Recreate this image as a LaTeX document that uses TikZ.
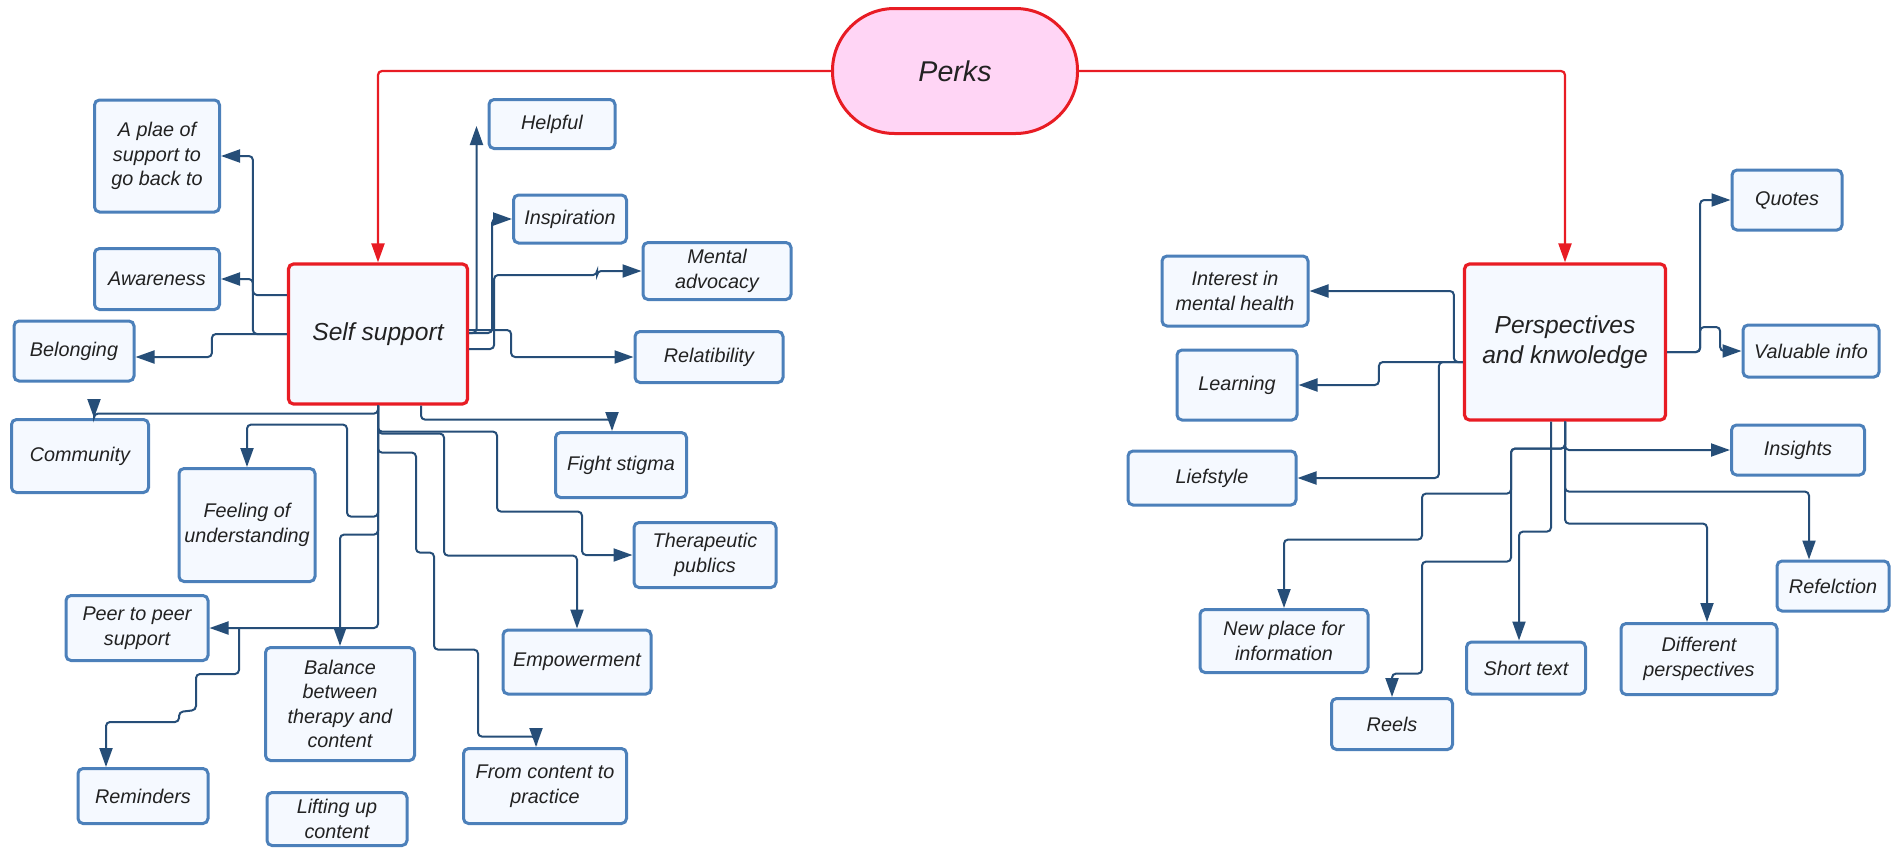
\documentclass[tikz,border=0pt]{standalone}
\usepackage{fontspec}
\setmainfont{Liberation Sans}
\usetikzlibrary{arrows.meta}
\definecolor{leaffill}{RGB}{245,249,255}
\definecolor{leafdraw}{RGB}{76,128,186}
\definecolor{linkcol}{RGB}{38,78,120}
\definecolor{hubred}{RGB}{232,28,36}
\definecolor{rootpink}{RGB}{255,213,245}
\definecolor{inkcol}{RGB}{34,34,34}
\begin{document}
\begin{tikzpicture}[x=0.5pt, y=-0.5pt, ->, >={Triangle[length=9.5pt,width=6.5pt]},
    leaf/.style={rectangle, rounded corners=2.5pt, draw=leafdraw, line width=1.5pt, fill=leaffill, align=center, inner sep=1pt},
    hub/.style={leaf, draw=hubred, line width=1.6pt, font=\itshape\fontsize{12.3}{15}\selectfont},
    root node/.style={rectangle, rounded corners=31pt, draw=hubred, line width=1.5pt, fill=rootpink, font=\itshape\fontsize{14.3}{17}\selectfont},
    link/.style={draw=linkcol, line width=1pt, rounded corners=2pt},
    redlink/.style={draw=hubred, line width=1.1pt, rounded corners=2pt}]
        \tikzstyle{every node}=[text=inkcol, font=\itshape\fontsize{9.9}{12.3}\selectfont]
        \useasboundingbox (0,0) rectangle (1901,847);

          % centre nodes
          \node[root node, minimum width=122.5pt, minimum height=62.5pt] (perks) at (955,71) {Perks};
          \node[hub, minimum width=89.5pt, minimum height=70pt] (self) at (378,334) {Self support};
          \node[hub, minimum width=100.5pt, minimum height=78pt] (persp) at (1565,342) {Perspectives\\and knwoledge};

          % self support side
          \node[leaf, minimum width=62.5pt, minimum height=56pt] (place) at (157,156) {A plae of\\support to\\go back to};
          \node[leaf, minimum width=62.5pt, minimum height=30.5pt] (aware) at (157,279) {Awareness};
          \node[leaf, minimum width=60pt, minimum height=30pt] (belong) at (74,351) {Belonging};
          \node[leaf, minimum width=63pt, minimum height=24.5pt] (helpful) at (552,124) {Helpful};
          \node[leaf, minimum width=56.5pt, minimum height=24pt] (inspire) at (570,219) {Inspiration};
          \node[leaf, minimum width=74pt, minimum height=28.5pt] (mental) at (717,271) {Mental\\advocacy};
          \node[leaf, minimum width=74pt, minimum height=25.5pt] (relat) at (709,357) {Relatibility};
          \node[leaf, minimum width=68.5pt, minimum height=36.5pt] (comm) at (80,456) {Community};
          \node[leaf, minimum width=68pt, minimum height=56.5pt] (feel) at (247,525) {Feeling of\\understanding};
          \node[leaf, minimum width=65.5pt, minimum height=32.5pt] (fight) at (621,465) {Fight stigma};
          \node[leaf, minimum width=71pt, minimum height=32.5pt] (thera) at (705,555) {Therapeutic\\publics};
          \node[leaf, minimum width=71pt, minimum height=32.5pt] (peer) at (137,628) {Peer to peer\\support};
          \node[leaf, minimum width=74.5pt, minimum height=56.5pt] (balance) at (340,704) {Balance\\between\\therapy and\\content};
          \node[leaf, minimum width=74pt, minimum height=32pt] (empower) at (577,662) {Empowerment};
          \node[leaf, minimum width=65pt, minimum height=27.5pt] (remind) at (143,796) {Reminders};
          \node[leaf, minimum width=70pt, minimum height=26.5pt] (lift) at (337,819) {Lifting up\\content};
          \node[leaf, minimum width=81.5pt, minimum height=37.5pt] (practice) at (545,786) {From content to\\practice};

          % perspectives side
          \node[leaf, minimum width=55pt, minimum height=30pt] (quotes) at (1787,200) {Quotes};
          \node[leaf, minimum width=73pt, minimum height=35pt] (interest) at (1235,291) {Interest in\\mental health};
          \node[leaf, minimum width=68pt, minimum height=26pt] (valuable) at (1811,351) {Valuable info};
          \node[leaf, minimum width=60pt, minimum height=35pt] (learn) at (1237,385) {Learning};
          \node[leaf, minimum width=84pt, minimum height=27pt] (life) at (1212,478) {Liefstyle};
          \node[leaf, minimum width=66.5pt, minimum height=25pt] (insight) at (1798,450) {Insights};
          \node[leaf, minimum width=56pt, minimum height=25pt] (reflect) at (1833,586) {Refelction};
          \node[leaf, minimum width=84pt, minimum height=31.5pt] (newplace) at (1284,641) {New place for\\information};
          \node[leaf, minimum width=60.5pt, minimum height=25.5pt] (reels) at (1392,724) {Reels};
          \node[leaf, minimum width=59.5pt, minimum height=26pt] (short) at (1526,668) {Short text};
          \node[leaf, minimum width=78pt, minimum height=35.5pt] (diff) at (1699,659) {Different\\perspectives};

          \coordinate (peerjoint) at (239,628);

          % red links from the root
          \draw[redlink] (perks.west) -| (self.north);
          \draw[redlink] (perks.east) -| (persp.north);

          % self support links
          \draw[link] ([yshift=19.5pt]self.west) -- ++(-34,0) |- (place.east);
          \draw[link] (self.west) -- ++(-34,0) |- (aware.east);
          \draw[link] (self.west) -- ++(-75,0) |- ([yshift=-3pt]belong.east);
          \draw[link] ([yshift=0.5pt]self.east) -| ([xshift=-5.5pt,yshift=-1pt]helpful.west);
          \draw[link] ([yshift=0.5pt]self.east) -- ++(23,0) |- (inspire.west);
          \draw[link] ([yshift=-7.5pt]self.east) -- ++(25,0) -- ++(0,-74) -- ++(103,0) -- ++(0,-4) -- (mental.west);
          \draw[link] ([yshift=2pt]self.east) -- ++(42,0) |- (relat.west);
          \draw[link] (self.south) -- ++(0,8) -| ([xshift=7pt]comm.north);
          \draw[link] ([xshift=21.5pt]self.south) -- ++(0,14) -| ([xshift=-4.5pt]fight.north);
          \draw[link] (self.south) -- ++(0,111) -- ++(-31,0) -- ++(0,-92) -| (feel.north);
          \draw[link] (self.south) -- ++(0,129) -| (balance.north);
          \draw[link] (self.south) |- (peer.east);
          \draw[link] (peerjoint) -- ++(0,46) -- ++(-43,0) -- ++(0,36) -- ++(-17,2) -- ++(0,10) -| ([xshift=-18.5pt]remind.north);
          \draw[link] (self.south) -- ++(0,26) -- ++(119,0) -- ++(0,80) -- ++(85,0) |- (thera.west);
          \draw[link] (self.south) -- ++(0,28) -- ++(66,0) -- ++(0,122) -| (empower.north);
          \draw[link] (self.south) -- ++(0,47) -- ++(38,0) -- ++(0,100) -- ++(18,0) -- ++(0,97) -- ++(44,0) -- ++(0,87) -| ([xshift=-4.5pt]practice.north);

          % perspectives links
          \draw[link] ([yshift=-5pt]persp.east) -- ++(33,0) |- (quotes.west);
          \draw[link] ([yshift=-5pt]persp.east) -- ++(33,0) -- ++(0,-25) -- ++(20,0) |- (valuable.west);
          \draw[link] ([yshift=-10pt]persp.west) -- ++(-9,0) |- (interest.east);
          \draw[link] ([yshift=-10pt]persp.west) -- ++(-84,0) |- (learn.east);
          \draw[link] ([yshift=-10pt]persp.west) -- ++(-24,0) |- (life.east);
          \draw[link] (persp.south) |- (insight.west);
          \draw[link] (persp.south) -- ++(0,70) -| ([xshift=-12pt]reflect.north);
          \draw[link] (persp.south) -- ++(0,102) -| ([xshift=4pt]diff.north);
          \draw[link] ([xshift=-7pt]persp.south) -- ++(0,110) -| ([xshift=-3.5pt]short.north);
          \draw[link] (persp.south) -- ++(0,27) -- ++(-54,0) -- ++(0,45) -- ++(-89,0) -- ++(0,46) -| (newplace.north);
          \draw[link] (persp.south) -- ++(0,27) -- ++(-54,0) -- ++(0,113) -- ++(-89,0) -- ++(0,112) -| (reels.north);

        \end{tikzpicture}
\end{document}
